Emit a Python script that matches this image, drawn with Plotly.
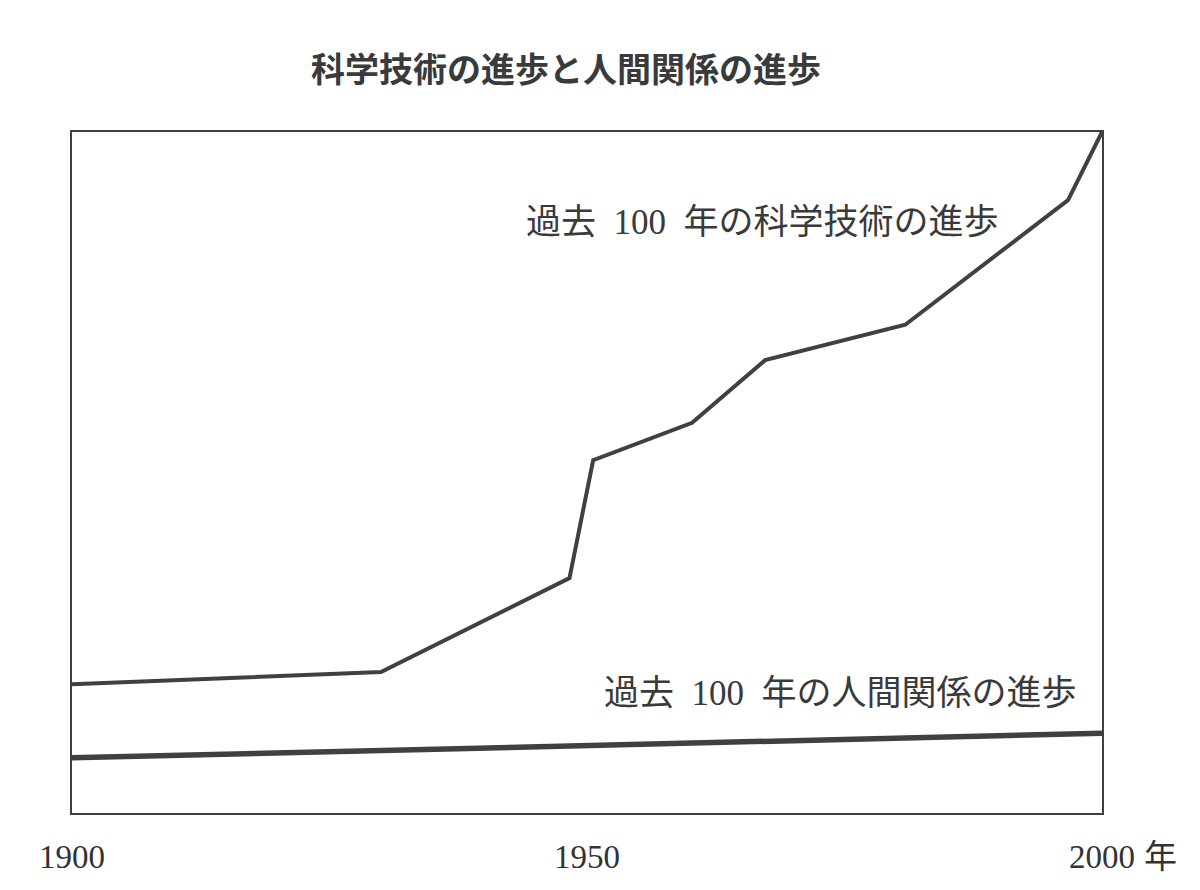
import plotly.graph_objects as go

title_text = "科学技術の進歩と人間関係の進歩"
sci_years = [1900, 1930, 1948.3, 1950.6, 1960.2, 1967.3, 1980.9, 1996.7, 2000]
sci_values = [18.9, 20.7, 34.5, 51.8, 57.3, 66.5, 71.7, 90.0, 100]
hum_years = [1900, 2000]
hum_values = [8.1, 11.7]
sci_label = "過去\u00a0\u00a0100\u00a0\u00a0年の科学技術の進歩"
hum_label = "過去\u00a0\u00a0100\u00a0\u00a0年の人間関係の進歩"
tick_vals = [1900, 1950, 2000]
tick_text = ["1900", "1950", "2000"]
year_unit = "年"

ink = "#404040"
serif = "Liberation Serif, Noto Sans CJK JP, serif"

# page is offset by the default 8px body margin; compensate
OFF = 8
fig = go.Figure()
fig.add_trace(go.Scatter(x=sci_years, y=sci_values, mode="lines",
                         line=dict(color=ink, width=4), hoverinfo="skip"))
fig.add_trace(go.Scatter(x=hum_years, y=hum_values, mode="lines",
                         line=dict(color=ink, width=5.5), hoverinfo="skip"))

fig.update_layout(
    width=1200, height=890,
    margin=dict(l=72 - OFF, r=1200 - (1102 - OFF), t=132 - OFF, b=890 - (813 - OFF)),
    paper_bgcolor="white", plot_bgcolor="white",
    showlegend=False,
    title=dict(text=title_text, x=(566 - OFF) / 1200, xanchor="center",
               y=1 - (70 - OFF) / 890, yanchor="middle",
               font=dict(family="Noto Sans CJK JP", size=34, color="#3a3a3a",
                         weight="bold")),
)
fig.update_xaxes(range=[1900, 2000], showgrid=False, zeroline=False,
                 showline=True, mirror=True, linecolor=ink, linewidth=2,
                 tickvals=tick_vals, ticktext=tick_text, ticks="",
                 ticklabelstandoff=13, automargin=False,
                 tickfont=dict(family=serif, size=33, color="#333333"))
fig.update_yaxes(range=[0, 100], showgrid=False, zeroline=False,
                 showline=True, mirror=True, linecolor=ink, linewidth=2,
                 showticklabels=False, ticks="", automargin=False)

fig.add_annotation(x=1900 + (524 - 72) / 10.3, y=(813 - 222) / 6.81, text=sci_label,
                   xanchor="left", yanchor="middle", showarrow=False,
                   font=dict(family=serif, size=35, color="#3a3a3a"))
fig.add_annotation(x=1900 + (602 - 72) / 10.3, y=(813 - 693) / 6.81, text=hum_label,
                   xanchor="left", yanchor="middle", showarrow=False,
                   font=dict(family=serif, size=35, color="#3a3a3a"))
fig.add_annotation(x=2000, y=0, yref="y", text=year_unit, xanchor="left",
                   yanchor="middle", showarrow=False, xshift=40, yshift=-44,
                   font=dict(family=serif, size=33, color="#333333"))

fig.write_html("out.html")
